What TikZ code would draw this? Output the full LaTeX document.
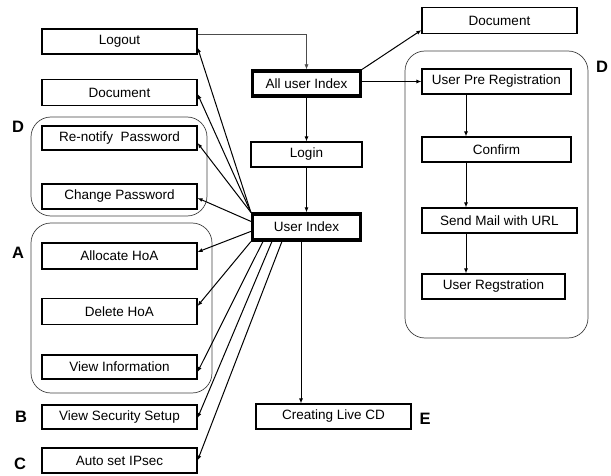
\documentclass[tikz,border=0pt]{standalone}
\usepackage{fontspec}
\setmainfont{Liberation Sans}
\usetikzlibrary{arrows.meta}
\begin{document}
\begin{tikzpicture}[x=1pt,y=-1pt,>={Latex[length=5pt,width=4pt]},
    box/.style={draw,line width=1.1pt,minimum width=155pt,minimum height=25pt,inner sep=0pt,font=\fontsize{13.5}{15}\selectfont},
    mainbox/.style={box,line width=3.2pt,minimum width=108pt,minimum height=25pt},
    grp/.style={draw=black!75,line width=0.7pt,rounded corners=20pt},
    tag/.style={font=\fontsize{16.5}{18}\selectfont\bfseries}]
\useasboundingbox (0,0) rectangle (611,476);
                % left column
                \node[box] (logout) at (119.5,41.5) {Logout};
                \node[box,minimum height=26pt] (docl) at (119.5,92.5) {Document};
                \node[box,minimum height=24pt] (renotify) at (119.5,138) {Re-notify\ \ Password};
                \node[box] (chpw) at (119.5,196.5) {Change Password};
                \node[box,minimum height=26pt] (alloc) at (119.5,256) {Allocate HoA};
                \node[box,minimum height=26pt] (delhoa) at (119.5,311.5) {Delete HoA};
                \node[box,minimum height=24pt] (viewinfo) at (119.5,367) {View Information};
                \node[box,minimum height=24pt] (viewsec) at (119.5,417) {View Security Setup};
                \node[box] (autoip) at (119.5,460.5) {Auto set IPsec};
                \draw[grp] (31,117) rectangle (207,216);
                \draw[grp] (31,223) rectangle (212,393);
                \node[tag] (tagd) at (18,127) {D};
                \node[tag] (taga) at (18,253) {A};
                \node[tag] (tagb) at (21,417) {B};
                \node[tag] (tagc) at (20,464) {C};
                % middle column
                \node[mainbox] (alluser) at (306.5,83.5) {All user Index};
                \node[box,minimum width=111pt] (login) at (306.5,154.5) {Login};
                \node[mainbox,minimum height=26pt] (userindex) at (306.5,227) {User Index};
                \node[box] (livecd) at (333.5,416.5) {Creating Live CD};
                \node[tag] (tage) at (425,419) {E};
                % right column
                \node[box,minimum height=26pt] (docr) at (499.5,20.5) {Document};
                \draw[grp] (405,51) rectangle (588,338);
                \node[box,minimum width=149pt] (prereg) at (496.5,81.5) {User Pre Registration};
                \node[box,minimum width=149pt] (confirm) at (496.5,149.5) {Confirm};
                \node[box] (sendmail) at (499.5,220.5) {Send Mail with URL};
                \node[box,minimum width=143pt] (userreg) at (493.5,286.5) {User Regstration};
                \node[tag] (tagd2) at (602,67) {D};
                % connectors
                \draw[->,draw=black!70,line width=0.6pt] ([yshift=7.5pt]logout.east) -| (alluser.north);
                \draw[->,line width=1pt] (alluser.north east) to ([yshift=4pt]docr.south west);
                \draw[->,line width=1pt] (alluser.east |- prereg.west) to (prereg.west);
                \draw[->,line width=1pt] (alluser) to (login);
                \draw[->,line width=1pt] (login) to (userindex);
                \draw[->,line width=1pt] ([xshift=-30.5pt]prereg.south) to ([xshift=-30.5pt]confirm.north);
                \draw[->,line width=1pt] ([xshift=-30.5pt]confirm.south) to ([xshift=-33.5pt]sendmail.north);
                \draw[->,line width=1pt] ([xshift=-33.5pt]sendmail.south) to ([xshift=-27.5pt]userreg.north);
                \draw[->,line width=1pt] ([xshift=-5.5pt]userindex.south) to ([xshift=-5.5pt]userindex.south |- livecd.north);
                \draw[->,line width=1pt] (userindex.north west) to ([yshift=-6pt]logout.east);
                \draw[->,line width=1pt] (userindex.north west) to ([yshift=-1.5pt]docl.east);
                \draw[->,line width=1pt] (userindex.north west) to ([yshift=-5pt]renotify.east);
                \draw[->,line width=1pt] ([yshift=-9pt]userindex.north west) to ([yshift=-1.5pt]chpw.east);
                \draw[->,line width=1pt] ([yshift=-19pt]userindex.north west) to ([yshift=4pt]alloc.east);
                \draw[->,line width=1pt] (userindex.south west) to ([yshift=5.5pt]delhoa.east);
                \draw[->,line width=1pt] ([xshift=12pt]userindex.south west) to ([yshift=-5pt]viewinfo.east);
                \draw[->,line width=1pt] ([xshift=21pt]userindex.south west) to ([yshift=-1pt]viewsec.east);
                \draw[->,line width=1pt] ([xshift=31pt]userindex.south west) to (autoip.east);
            \end{tikzpicture}
\end{document}
